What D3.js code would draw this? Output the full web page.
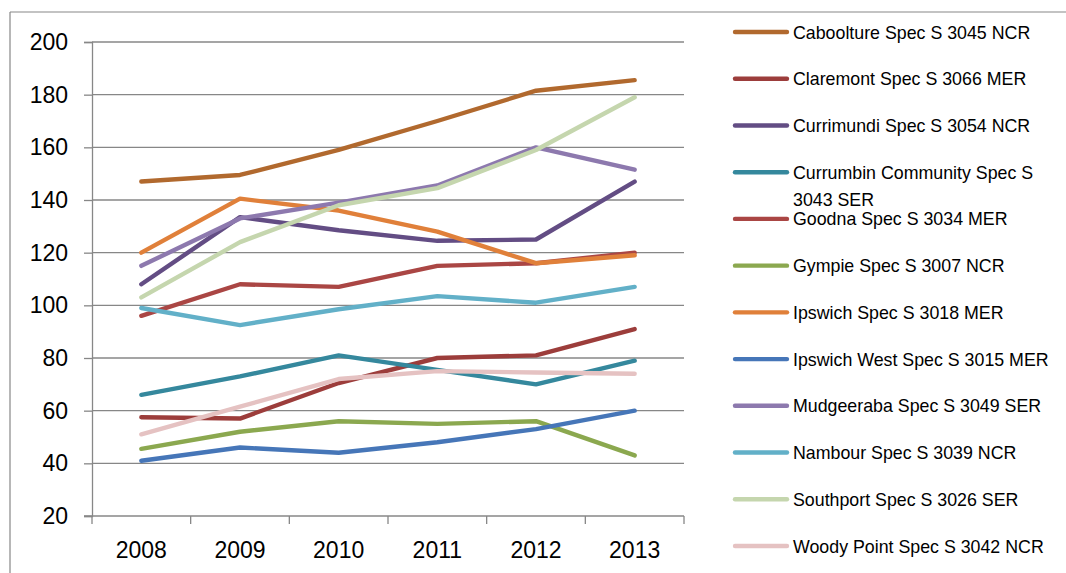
<!DOCTYPE html>
<html>
<head>
<meta charset="utf-8">
<script src="https://cdn.jsdelivr.net/npm/d3@7"></script>
<style>
  body { margin: 0; background: #fff; }
  svg { display: block; font-family: "Liberation Sans", Arial, sans-serif; }
</style>
</head>
<body>
<svg id="chart" width="1066" height="573"></svg>
<script>
// data
let years = ["2008", "2009", "2010", "2011", "2012", "2013"];
let yTicks = [20, 40, 60, 80, 100, 120, 140, 160, 180, 200];

let schools = [
  "Caboolture Spec S 3045 NCR",
  "Claremont Spec S 3066 MER",
  "Currimundi Spec S 3054 NCR",
  "Currumbin Community Spec S 3043 SER",
  "Goodna Spec S 3034 MER",
  "Gympie Spec S 3007 NCR",
  "Ipswich Spec S 3018 MER",
  "Ipswich West Spec S 3015 MER",
  "Mudgeeraba Spec S 3049 SER",
  "Nambour Spec S 3039 NCR",
  "Southport Spec S 3026 SER",
  "Woody Point Spec S 3042 NCR"
];

let caboolture  = [147, 149.5, 159, 170, 181.5, 185.5];
let claremont   = [57.5, 57, 70.5, 80, 81, 91];
let currimundi  = [108, 133.5, 128.5, 124.5, 125, 147];
let currumbin   = [66, 73, 81, 75.5, 70, 79];
let goodna      = [96, 108, 107, 115, 116, 120];
let gympie      = [45.5, 52, 56, 55, 56, 43];
let ipswich     = [120, 140.5, 136, 128, 116, 119];
let ipswichWest = [41, 46, 44, 48, 53, 60];
let mudgeeraba  = [115, 133, 139, 145.5, 160, 151.5];
let nambour     = [99, 92.5, 98.5, 103.5, 101, 107];
let southport   = [103, 124, 138, 144.5, 159, 179];
let woodyPoint  = [51, 61.5, 72, 75, 74.5, 74];

let allValues = [caboolture, claremont, currimundi, currumbin, goodna, gympie,
                 ipswich, ipswichWest, mudgeeraba, nambour, southport, woodyPoint];

let colors = ["#B1692E", "#9C3D3B", "#634D84", "#35889D", "#AA4644", "#8BA84F",
              "#E0803A", "#4676B8", "#8D79AE", "#62B0C8", "#C5D6AE", "#E5C2C2"];

let series = schools.map((name, i) => ({ name: name, values: allValues[i], color: colors[i] }));

let svg = d3.select("#chart");
let grey = "#878787";

// outer frame (cut off at the right and bottom like the source)
svg.append("line").attr("x1", 10).attr("y1", 12).attr("x2", 1066).attr("y2", 12)
   .attr("stroke", grey).attr("stroke-width", 1.2);
svg.append("line").attr("x1", 10).attr("y1", 12).attr("x2", 10).attr("y2", 573)
   .attr("stroke", grey).attr("stroke-width", 1.2);

let plotLeft = 92, plotRight = 684, plotTop = 42, plotBottom = 516;

let x = d3.scaleBand().domain(years).range([plotLeft, plotRight]).padding(0);
let y = d3.scaleLinear().domain([20, 200]).range([plotBottom, plotTop]);

// horizontal gridlines
svg.append("g")
   .selectAll("line")
   .data(yTicks.slice(1))
   .enter()
   .append("line")
   .attr("x1", plotLeft).attr("x2", plotRight)
   .attr("y1", d => y(d)).attr("y2", d => y(d))
   .attr("stroke", grey).attr("stroke-width", 1.3);

// y axis
let yAxis = svg.append("g")
   .attr("transform", `translate(${plotLeft},0)`)
   .call(d3.axisLeft(y).tickValues(yTicks).tickSize(8).tickPadding(16).tickFormat(d3.format("d")));
yAxis.select(".domain").attr("stroke", grey).attr("stroke-width", 1.3);
yAxis.selectAll(".tick line").attr("stroke", grey).attr("stroke-width", 1.3);
yAxis.selectAll("text").attr("font-size", 23).attr("fill", "#000")
     .attr("font-family", "Liberation Sans, Arial, sans-serif");

// x axis: baseline plus tick marks on the band edges
svg.append("line").attr("x1", plotLeft - 8).attr("x2", plotRight)
   .attr("y1", plotBottom).attr("y2", plotBottom)
   .attr("stroke", grey).attr("stroke-width", 1.3);

let edges = years.map(d => x(d)).concat([plotRight]);
svg.append("g")
   .selectAll("line")
   .data(edges)
   .enter()
   .append("line")
   .attr("x1", d => d).attr("x2", d => d)
   .attr("y1", plotBottom).attr("y2", plotBottom + 8)
   .attr("stroke", grey).attr("stroke-width", 1.3);

svg.append("g")
   .selectAll("text")
   .data(years)
   .enter()
   .append("text")
   .attr("x", d => x(d) + x.bandwidth() / 2)
   .attr("y", 558)
   .attr("text-anchor", "middle")
   .attr("font-size", 23)
   .attr("fill", "#000")
   .text(d => d);

// lines
let line = d3.line()
   .x((d, i) => x(years[i]) + x.bandwidth() / 2)
   .y(d => y(d));

svg.append("g")
   .selectAll("path")
   .data(series)
   .enter()
   .append("path")
   .attr("d", d => line(d.values))
   .attr("fill", "none")
   .attr("stroke", d => d.color)
   .attr("stroke-width", 4.4)
   .attr("stroke-linecap", "round")
   .attr("stroke-linejoin", "round");

// legend
let legendY = d3.scaleLinear().domain([0, 11]).range([32, 546]);

let legend = svg.append("g")
   .selectAll("g")
   .data(series)
   .enter()
   .append("g")
   .attr("transform", (d, i) => `translate(733,${legendY(i)})`);

legend.append("line")
   .attr("x1", 2).attr("x2", 54)
   .attr("stroke", d => d.color)
   .attr("stroke-width", 4.4)
   .attr("stroke-linecap", "round");

legend.append("text")
   .attr("x", 60)
   .attr("y", 6.5)
   .attr("font-size", 17.8)
   .attr("fill", "#000")
   .each(function(d) {
     let t = d3.select(this);
     if (d.name.startsWith("Currumbin")) {
       t.append("tspan").attr("x", 60).text("Currumbin Community Spec S");
       t.append("tspan").attr("x", 60).attr("dy", 27).text("3043 SER");
     } else {
       t.text(d.name);
     }
   });
</script>
</body>
</html>
